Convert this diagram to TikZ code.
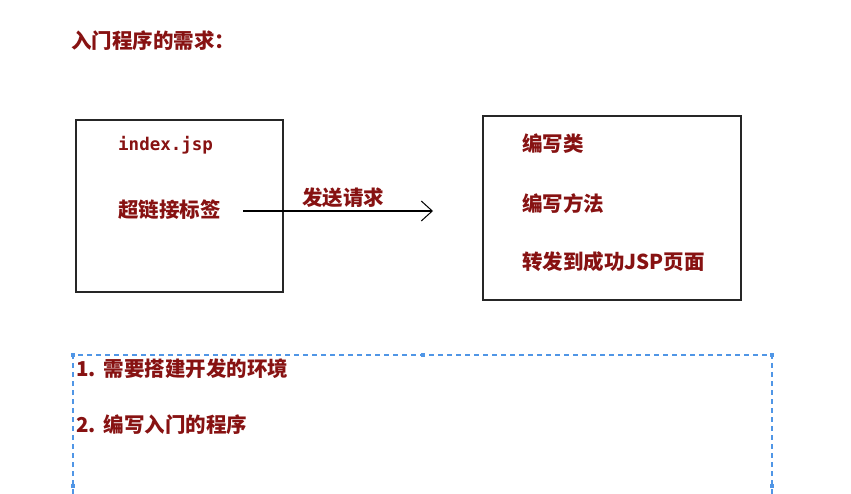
\documentclass[tikz,border=0pt]{standalone}
\usepackage{fontspec}
\newfontfamily\cjk{Noto Sans CJK SC}
\newfontfamily\monob{DejaVu Sans Mono}
\usetikzlibrary{arrows.meta}
\definecolor{txtred}{RGB}{135,18,18}
\definecolor{selblue}{RGB}{80,150,230}
\tikzset{
  x=1pt,y=-1pt,
  lbl/.style={anchor=west,inner sep=0pt,text=txtred,font=\cjk\bfseries\fontsize{20.5}{22}\selectfont},
  monolbl/.style={anchor=west,inner sep=0pt,text=txtred,font=\monob\bfseries\fontsize{17.5}{20}\selectfont},
  boxnode/.style={draw=black!85,line width=1.3pt,minimum width=#1,inner sep=0pt},
  selline/.style={draw=selblue,line width=1.3pt,dash pattern=on 5pt off 4pt},
  handle/.style={fill=selblue,minimum size=4.5pt,inner sep=0pt}
}
\begin{document}
\begin{tikzpicture}
\useasboundingbox (0,0) rectangle (851,494);
% title
\node[lbl] (title) at (71,41) {入门程序的需求：};
% left box
\node[boxnode=207pt,minimum height=172pt] (left) at (179.5,206) {};
\node[monolbl] (idx) at (118,145) {index.jsp};
\node[lbl] (link) at (118,210) {超链接标签};
% right box
\node[boxnode=258pt,minimum height=184pt] (right) at (612,208) {};
\node[lbl] (c1) at (522,144) {编写类};
\node[lbl] (c2) at (522,203.5) {编写方法};
\node[lbl] (c3) at (522,262) {转发到成功JSP页面};
% arrow
\coordinate (as) at (243,211);
\coordinate (ae) at (433,211);
\draw[line width=1.1pt,-{Straight Barb[length=11pt,width=20pt,line width=1pt]}] (as) -- (ae);
\node[lbl] (send) at (302,198) {发送请求};
% selection box
\coordinate (s1) at (73,494);
\coordinate (s2) at (73,355);
\coordinate (s3) at (772,355);
\coordinate (s4) at (772,494);
\path[selline] (s1) -- (s2) -- (s3) -- (s4);
\node[handle] (h1) at (s2) {};
\node[handle] (h2) at (423,355) {};
\node[handle] (h3) at (s3) {};
\node[handle] (h4) at (73,486) {};
\node[handle] (h5) at (772,486) {};
% list
\node[lbl] (l1) at (76,369) {1.\hspace{8pt}需要搭建开发的环境};
\node[lbl] (l2) at (76,425) {2.\hspace{8pt}编写入门的程序};
\end{tikzpicture}
\end{document}
